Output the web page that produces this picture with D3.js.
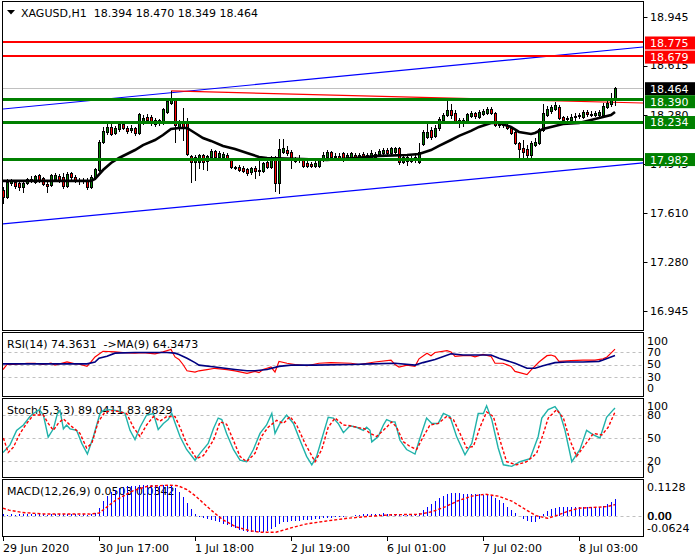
<!DOCTYPE html>
<html><head><meta charset="utf-8">
<script src="https://cdn.jsdelivr.net/npm/d3@7"></script>
<style>
body{margin:0;background:#fff}
svg{display:block}
text{font-family:"DejaVu Sans",sans-serif;font-size:11px;white-space:pre}
</style></head>
<body><svg id="c" width="700" height="560"></svg>
<script>
// ---------------- DATA ----------------
const symbolTitle = "XAGUSD,H1";
const lastOHLC = [18.394, 18.470, 18.349, 18.464];

const open = [
17.768,17.721,17.816,17.823,17.816,17.789,17.816,17.836,17.823,17.870,
17.850,17.809,17.802,17.843,17.864,17.857,17.796,17.884,17.857,17.836,
17.830,17.836,17.789,17.857,17.904,18.095,18.163,18.197,18.156,18.183,
18.217,18.190,18.176,18.190,18.156,18.224,18.265,18.265,18.244,18.224,
18.224,18.299,18.360,18.387,18.197,18.231,18.231,18.000,17.959,17.959,
18.006,17.966,17.993,18.034,17.993,17.993,18.006,17.979,17.925,17.925,
17.918,17.911,17.891,17.918,17.898,17.898,17.959,17.925,17.993,17.816,
18.027,18.040,18.027,17.966,17.979,17.972,17.952,17.945,17.932,17.932,
17.972,17.993,18.027,17.993,18.000,18.020,17.993,17.993,18.006,17.993,
18.013,17.986,17.993,17.993,18.013,18.020,18.040,18.020,18.027,18.054,
17.959,17.993,17.966,17.986,17.959,18.081,18.129,18.176,18.136,18.190,
18.244,18.278,18.312,18.292,18.244,18.238,18.238,18.272,18.292,18.265,
18.285,18.292,18.319,18.292,18.210,18.217,18.210,18.190,18.163,18.088,
18.054,18.047,18.006,18.074,18.088,18.176,18.278,18.306,18.319,18.333,
18.265,18.251,18.244,18.265,18.272,18.265,18.299,18.285,18.278,18.278,
18.278,18.333,18.353,18.394];
const high = [
17.789,17.843,17.843,17.836,17.836,17.830,17.850,17.864,17.870,17.877,
17.857,17.823,17.877,17.884,17.877,17.884,17.891,17.891,17.870,17.850,
17.850,17.850,17.870,17.918,18.108,18.197,18.217,18.224,18.204,18.224,
18.231,18.204,18.210,18.197,18.292,18.278,18.285,18.278,18.258,18.251,
18.326,18.387,18.442,18.394,18.244,18.326,18.258,18.006,18.006,18.013,
18.013,18.006,18.047,18.040,18.034,18.027,18.020,17.986,17.932,17.938,
17.932,17.918,17.925,17.932,17.972,17.959,17.966,18.000,18.000,18.115,
18.115,18.068,18.040,17.993,18.006,17.986,17.966,17.959,17.966,17.986,
18.027,18.040,18.034,18.020,18.020,18.027,18.020,18.027,18.020,18.020,
18.027,18.020,18.040,18.027,18.047,18.054,18.054,18.061,18.061,18.061,
18.006,18.006,18.000,18.006,18.088,18.176,18.224,18.197,18.210,18.265,
18.292,18.387,18.353,18.312,18.258,18.258,18.292,18.306,18.299,18.312,
18.319,18.333,18.333,18.299,18.231,18.231,18.224,18.197,18.170,18.095,
18.108,18.074,18.102,18.122,18.190,18.353,18.340,18.346,18.367,18.346,
18.272,18.272,18.285,18.292,18.292,18.312,18.312,18.306,18.306,18.312,
18.360,18.380,18.428,18.470];
const low = [
17.680,17.714,17.802,17.782,17.768,17.755,17.809,17.823,17.816,17.823,
17.802,17.755,17.796,17.830,17.823,17.782,17.789,17.843,17.823,17.809,
17.816,17.775,17.782,17.850,17.898,18.088,18.149,18.142,18.149,18.170,
18.183,18.156,18.163,18.142,18.149,18.217,18.231,18.210,18.204,18.210,
18.217,18.292,18.353,18.095,18.176,18.108,18.006,17.823,17.836,17.918,
17.911,17.904,17.986,17.986,17.986,17.986,17.972,17.918,17.911,17.898,
17.891,17.870,17.877,17.850,17.870,17.891,17.918,17.918,17.762,17.748,
18.020,18.006,17.918,17.959,17.959,17.925,17.925,17.925,17.925,17.925,
17.966,17.986,17.986,17.979,17.972,17.966,17.979,17.986,17.972,17.986,
17.986,17.979,17.986,17.986,18.006,18.013,18.013,18.013,18.020,17.945,
17.952,17.938,17.959,17.959,17.952,18.074,18.122,18.115,18.129,18.176,
18.238,18.272,18.258,18.224,18.197,18.204,18.231,18.265,18.258,18.258,
18.278,18.285,18.285,18.204,18.197,18.197,18.183,18.149,18.081,17.986,
17.986,17.986,17.993,18.068,18.081,18.170,18.272,18.292,18.312,18.251,
18.231,18.238,18.238,18.244,18.258,18.258,18.272,18.272,18.272,18.272,
18.272,18.326,18.340,18.349];
const close = [
17.721,17.823,17.830,17.796,17.789,17.816,17.843,17.843,17.864,17.836,
17.809,17.796,17.870,17.870,17.836,17.796,17.877,17.857,17.836,17.830,
17.836,17.789,17.857,17.911,18.095,18.170,18.197,18.149,18.190,18.217,
18.190,18.170,18.190,18.156,18.285,18.258,18.244,18.224,18.217,18.244,
18.319,18.374,18.394,18.210,18.231,18.197,18.013,17.959,17.993,18.006,
17.959,18.000,18.034,17.993,18.020,18.013,17.979,17.925,17.918,17.904,
17.898,17.884,17.918,17.898,17.904,17.952,17.925,17.993,17.816,18.047,
18.054,18.020,17.972,17.979,17.972,17.932,17.932,17.932,17.952,17.972,
18.006,18.027,17.993,18.000,17.986,17.972,18.006,18.020,17.993,18.006,
17.993,18.006,18.020,18.013,18.034,18.040,18.020,18.054,18.054,17.959,
17.993,17.966,17.986,17.993,18.027,18.163,18.163,18.129,18.190,18.251,
18.278,18.312,18.278,18.231,18.238,18.244,18.285,18.292,18.272,18.299,
18.306,18.319,18.292,18.210,18.217,18.210,18.190,18.156,18.088,18.047,
18.027,18.006,18.088,18.095,18.183,18.292,18.319,18.333,18.346,18.258,
18.244,18.258,18.265,18.272,18.278,18.299,18.285,18.278,18.292,18.299,
18.340,18.360,18.394,18.464];

// moving average on price (read at key bars)
const maIdx = [0,22,23,25,27,29,31,33,35,38,40,42,44,46,48,50,52,55,58,61,64,66,75,81,88,94,101,104,107,109,112,114,117,119,122,124,127,129,132,133,135,138,140,144,147,149,152,153];
const maVal = [17.830,17.830,17.843,17.904,17.952,17.986,18.013,18.040,18.074,18.108,18.142,18.183,18.190,18.190,18.156,18.122,18.102,18.068,18.047,18.020,17.993,17.986,17.979,17.972,17.986,18.000,18.006,18.013,18.040,18.068,18.108,18.136,18.170,18.197,18.224,18.224,18.197,18.163,18.149,18.156,18.183,18.204,18.217,18.224,18.244,18.258,18.278,18.299];

const priceTicks = [18.945, 18.615, 18.280, 17.945, 17.610, 17.280, 16.945];
const resistanceLevels = [18.775, 18.679];
const supportLevels = [18.390, 18.234, 17.982];
const bidPrice = 18.464;
// trend lines: [startBar, startPrice, endBar, endPrice]
const upperChannel = [0, 18.319, 160, 18.741];
const lowerChannel = [0, 17.537, 160, 17.952];
const peakLine = [42, 18.442, 160, 18.360];

// RSI(14) and its MA(9)
const rsiLegend = ["RSI(14)", 74.3631, "->MA(9)", 64.3473];
const rsiIdx = [0,1,3,6,8,10,12,13,16,18,19,21,22,23,25,28,30,33,35,38,40,42,43,44,45,46,48,49,51,53,56,58,61,63,64,65,66,67,68,69,71,73,76,79,82,87,89,93,97,98,99,101,103,104,106,107,108,111,112,113,115,117,118,120,122,123,125,127,128,131,132,134,136,137,138,139,142,145,148,150,151,152,153];
const rsiVal = [42,50,50,52,52,50,52,49,54,51,51,47,54,62,71,70,69,68,69,67,70,74,62,58,50,40,38,40,42,44,42,40,36,39,37,42,44,46,38,55,52,50,48,52,53,52,50,54,57,50,46,49,47,59,68,64,69,72,70,63,64,64,62,66,63,52,52,47,39,34,41,54,64,65,63,55,56,57,57,59,62,68,74.36];
const rsiMaIdx = [0,21,23,24,26,28,33,41,43,44,46,48,49,53,58,61,63,66,69,72,78,87,92,98,103,105,108,112,115,122,124,128,131,133,135,138,141,145,149,150,153];
const rsiMaVal = [51,51,54,60,63,68,69,69,68,66,60,53,49,46,42,40,40,42,47,49,49,50,51,52,49,53,58,67,65,65,60,52,44,44,48,53,54,54,55,57,64.35];
const rsiLevels = [70, 50, 30];
const rsiAxis = [100, 70, 50, 30, 0];

// Stochastic(5,3,3)
const stochLegend = ["Stoch(5,3,3)", 89.0411, 83.9829];
const stochKIdx = [0,1.75,3.4,5.1,6.75,7.6,9.1,10.1,11.3,12.6,13.6,14.25,15.1,15.9,16.75,18.4,19.7,21.1,22.6,24.25,25.1,26.75,29.25,30.5,31.75,33,34.25,35.9,37.6,38.8,40.1,41.3,42.2,43,44.25,45.9,48,49.25,51.3,52.6,53.8,54.7,55.9,57.6,59.25,60.9,62.6,64.25,65.9,67.2,68,69.25,70.9,72.6,74.25,75.9,77.2,78.4,80.1,81.3,82.6,83.8,85.1,86.75,88.4,90.1,90.9,91.75,92.2,93.8,95.1,95.9,97.2,98,99.25,100.9,103,104.25,105.9,107.2,108.8,110.1,111.75,113.4,115.5,117.2,118.8,120.1,120.9,122.2,123.8,125.1,127.2,129.25,131.75,133.8,134.7,136.3,138,139.25,140.5,142.2,144.25,145.9,147.6,149.25,150.9,152.6,153];
const stochKVal = [31,41,60,67,78,82,87,80,51,62,82,86,62,67,62,60,43,29,52,82,86,87,85,82,60,48,64,80,82,61,69,74,82,70,52,35,21,30,43,62,76,74,56,35,21,19,35,56,67,82,56,69,80,69,47,26,15,26,56,77,76,69,57,66,64,60,64,60,45,52,67,74,71,71,47,35,29,50,76,69,69,82,78,52,28,43,82,82,92,74,37,15,13,19,23,52,76,87,91,82,60,19,35,60,54,50,77,87,89.04];
const stochDIdx = [0.1,1.3,2.6,4.25,5.9,7.6,10.1,11.3,12.6,13.8,15.1,16.75,19.25,20.9,22.2,23.8,25.5,27.6,30.9,32.6,34.25,35.9,37.6,39.25,40.9,43,44.25,45.9,48.4,50.1,52.6,54.25,55.9,57.6,59.25,60.9,63,64.6,66.3,68.4,70.1,71.75,73.4,75.5,78,79.7,81.3,83,85.1,86.75,88.4,90.5,91.75,93.4,95.1,97.2,98.4,100.1,101.75,103.4,105.1,106.75,108.8,110.9,112.6,114.25,115.9,117.6,119.25,120.9,122.6,124.25,125.9,128.4,130.9,133.4,135.1,136.3,138.4,140.1,141.75,143.4,145.5,147.6,149.7,151.3,153];
const stochDVal = [50,31,38,56,69,80,80,69,60,69,75,67,56,37,43,71,84,86,82,64,52,67,78,72,78,78,64,43,23,27,47,71,68,47,26,19,30,52,64,73,69,78,67,43,19,35,64,76,67,66,64,62,56,52,60,71,64,45,39,35,52,67,69,78,74,56,37,39,64,84,78,47,19,15,19,30,56,76,87,76,47,26,41,56,54,64,83.98];
const stochLevels = [80, 50, 20];
const stochAxis = [100, 80, 50, 20, 0];

// MACD(12,26,9)
const macdLegend = ["MACD(12,26,9)", 0.0503, 0.0342];
const macdMain = [
0.004,0.003,0.004,0.003,0.004,0.005,0.004,0.004,0.005,0.004,
0.004,0.003,0.005,0.004,0.004,0.004,0.005,0.004,0.004,0.003,
0.004,0.003,0.004,0.008,0.023,0.045,0.060,0.072,0.080,0.085,
0.088,0.090,0.091,0.092,0.093,0.094,0.094,0.093,0.093,0.092,
0.093,0.094,0.092,0.084,0.072,0.058,0.040,0.022,0.005,-0.004,
-0.008,-0.011,-0.014,-0.017,-0.020,-0.024,-0.029,-0.034,-0.039,-0.043,
-0.046,-0.049,-0.050,-0.051,-0.051,-0.050,-0.048,-0.042,-0.034,-0.026,
-0.020,-0.018,-0.017,-0.016,-0.015,-0.014,-0.013,-0.012,-0.011,-0.009,
-0.008,-0.007,-0.006,-0.005,-0.004,-0.003,-0.002,0.000,0.002,0.003,
0.004,0.004,0.005,0.006,0.006,0.007,0.006,0.005,0.005,0.002,
0.002,0.001,0.001,0.002,0.008,0.016,0.026,0.036,0.046,0.055,
0.062,0.067,0.069,0.069,0.069,0.068,0.068,0.068,0.067,0.066,
0.065,0.063,0.060,0.055,0.047,0.038,0.028,0.018,0.008,-0.002,
-0.010,-0.016,-0.020,-0.018,-0.010,0.004,0.014,0.020,0.024,0.026,
0.026,0.026,0.027,0.026,0.026,0.027,0.027,0.026,0.026,0.027,
0.031,0.036,0.042,0.0503];
const macdSigIdx = [0,1.5,4.8,10.4,21.5,24,28.2,32.6,36,41.5,43.75,46,48.2,50.4,52.7,54.9,58.2,61.6,64.3,68.2,70.5,72.7,76,80.5,86,91.6,97.2,103.8,107.2,110.5,113.8,117.2,120.5,123.9,127.2,130.5,133.3,136.1,138.3,141.1,143.9,148.3,151.1,153];
const macdSigVal = [0.023,0.017,0.010,0.005,0.005,0.008,0.048,0.077,0.090,0.094,0.092,0.080,0.060,0.035,0.010,-0.012,-0.034,-0.046,-0.051,-0.051,-0.043,-0.035,-0.025,-0.017,-0.008,-0.002,0.003,0.004,0.012,0.027,0.046,0.060,0.066,0.060,0.045,0.020,0.000,-0.008,0.000,0.013,0.023,0.026,0.028,0.0342];
const macdAxis = [0.1128, 0.00, -0.0624];

const dateIdx = [0, 24, 48, 72, 96, 120, 144];
const dateLabels = ["29 Jun 2020","30 Jun 17:00","1 Jul 18:00","2 Jul 19:00","6 Jul 01:00","7 Jul 02:00","8 Jul 03:00"];

// ---------------- LAYOUT ----------------
const svg = d3.select("#c");
const L = 2.5, R = 643.5;
const P = {main:[1.5,330.5], rsi:[332.5,396.5], stoch:[398.5,477.5], macd:[479.5,536.5]};

const x = d3.scaleLinear().domain([0,153]).range([3,615]);
const yP = d3.scaleLinear().domain([16.945,18.945]).range([311,17]);
const yR = d3.scaleLinear().domain([0,100]).range([396,333]);
const yS = d3.scaleLinear().domain([0,100]).range([476.3,399.7]);
const yM = d3.scaleLinear().domain([-0.0624,0.1128]).range([536,479]);

const defs = svg.append("defs");
Object.entries(P).forEach(([k,[a,b]])=>{
  defs.append("clipPath").attr("id","cp_"+k).append("rect")
    .attr("x",L+0.5).attr("y",a+0.5).attr("width",R-L-1).attr("height",b-a-1);
});
svg.append("rect").attr("width",700).attr("height",560).attr("fill","#fff");

const zipLine = (xs, ys, sy) => d3.line()(xs.map((v,k)=>[x(v), sy(ys[k])]));

// ---------- MAIN PANEL ----------
const gm = svg.append("g").attr("clip-path","url(#cp_main)");
const hline = (g,p,color,w) => g.append("line").attr("x1",L).attr("x2",R)
  .attr("y1",Math.round(yP(p))+(w%2?0.5:0)).attr("y2",Math.round(yP(p))+(w%2?0.5:0))
  .attr("stroke",color).attr("stroke-width",w);

hline(gm, bidPrice, "#c0c0c0", 1);
[upperChannel, lowerChannel].forEach(t=>{
  gm.append("line").attr("x1",x(t[0])).attr("y1",yP(t[1])).attr("x2",x(t[2])).attr("y2",yP(t[3]))
    .attr("stroke","#0000ff").attr("stroke-width",1.2);
});
gm.append("line").attr("x1",x(peakLine[0])).attr("y1",yP(peakLine[1])).attr("x2",x(peakLine[2])).attr("y2",yP(peakLine[3]))
  .attr("stroke","#ff0000").attr("stroke-width",1.2);

// candles
const cg = gm.append("g");
open.forEach((o,i)=>{
  const c = close[i], xc = Math.round(x(i));
  cg.append("line").attr("x1",xc+0.5).attr("x2",xc+0.5)
    .attr("y1",Math.round(yP(high[i]))).attr("y2",Math.round(yP(low[i]))+1)
    .attr("stroke","#000");
  const top = Math.round(yP(Math.max(o,c))), bot = Math.round(yP(Math.min(o,c)));
  if (bot - top < 1) {
    cg.append("line").attr("x1",xc-1).attr("x2",xc+2).attr("y1",top+0.5).attr("y2",top+0.5).attr("stroke","#000");
  } else {
    cg.append("rect").attr("x",xc-0.5).attr("y",top+0.5).attr("width",2).attr("height",bot-top)
      .attr("fill", c>=o ? "#008000" : "#ff0000").attr("stroke","#000");
  }
});
// MA
gm.append("path").attr("d", zipLine(maIdx, maVal, yP)).attr("fill","none")
  .attr("stroke","#000").attr("stroke-width",2.6);
// horizontal levels
resistanceLevels.forEach(p=>hline(gm,p,"#ff0000",2));
supportLevels.forEach(p=>hline(gm,p,"#008000",3));

// header
svg.append("path").attr("d","M7,10 L15,10 L11,14.5 Z").attr("fill","#000");
svg.append("text").attr("x",21).attr("y",16.5).attr("fill","#000")
  .text(symbolTitle + "  " + lastOHLC.map(v=>v.toFixed(3)).join(" "));

// price axis
priceTicks.forEach(p=>{
  const yy = Math.round(yP(p))+0.5;
  svg.append("line").attr("x1",R).attr("x2",R+4).attr("y1",yy).attr("y2",yy).attr("stroke","#000");
  svg.append("text").attr("x",650).attr("y",yP(p)).attr("dy","0.36em").attr("fill","#000").text(p.toFixed(3));
});
// level boxes (pushed down to avoid overlap)
const boxes = [
  ...resistanceLevels.map(p=>({p, col:"#ff0000"})),
  {p:bidPrice, col:"#000000"},
  ...supportLevels.map(p=>({p, col:"#008000"}))
].sort((a,b)=>b.p-a.p);
let lastBottom = -1e9;
boxes.forEach(b=>{
  let top = yP(b.p) + 1 - 6.5;
  if (top < lastBottom) top = lastBottom;
  lastBottom = top + 13;
  svg.append("rect").attr("x",645).attr("y",top).attr("width",50).attr("height",13).attr("fill",b.col);
  svg.append("text").attr("x",650).attr("y",top+6.5).attr("dy","0.36em").attr("fill","#fff").text(b.p.toFixed(3));
});

// ---------- RSI ----------
const clampY = (v,[a,b]) => Math.max(a+8, Math.min(b-8, v));
const gr = svg.append("g");
gr.append("text").attr("x",7).attr("y",347.5).attr("fill","#000")
  .text(rsiLegend[0] + " " + rsiLegend[1].toFixed(4) + "  " + rsiLegend[2] + " " + rsiLegend[3].toFixed(4));
const grc = gr.append("g").attr("clip-path","url(#cp_rsi)");
rsiLevels.forEach(v=>grc.append("line").attr("x1",L).attr("x2",R).attr("y1",Math.round(yR(v))+0.5).attr("y2",Math.round(yR(v))+0.5)
  .attr("stroke","#c0c0c0").attr("stroke-dasharray","3,3"));
grc.append("path").attr("d",zipLine(rsiIdx,rsiVal,yR)).attr("fill","none").attr("stroke","#ff0000").attr("stroke-width",1.2);
grc.append("path").attr("d",zipLine(rsiMaIdx,rsiMaVal,yR)).attr("fill","none").attr("stroke","#000080").attr("stroke-width",1.6);
rsiAxis.forEach(v=>svg.append("text").attr("x",647).attr("y",clampY(yR(v),[333,396])).attr("dy","0.36em").attr("fill","#000").text(v));

// ---------- STOCH ----------
const gs = svg.append("g");
gs.append("text").attr("x",7).attr("y",414).attr("fill","#000")
  .text(stochLegend[0] + " " + stochLegend[1].toFixed(4) + " " + stochLegend[2].toFixed(4));
const gsc = gs.append("g").attr("clip-path","url(#cp_stoch)");
stochLevels.forEach(v=>gsc.append("line").attr("x1",L).attr("x2",R).attr("y1",Math.round(yS(v))+0.5).attr("y2",Math.round(yS(v))+0.5)
  .attr("stroke","#c0c0c0").attr("stroke-dasharray","3,3"));
gsc.append("path").attr("d",zipLine(stochKIdx,stochKVal,yS)).attr("fill","none").attr("stroke","#20b2aa").attr("stroke-width",1.4);
gsc.append("path").attr("d",zipLine(stochDIdx,stochDVal,yS)).attr("fill","none").attr("stroke","#ff0000").attr("stroke-width",1.4).attr("stroke-dasharray","3,2");
stochAxis.forEach(v=>svg.append("text").attr("x",647).attr("y",clampY(yS(v),[398,477])).attr("dy","0.36em").attr("fill","#000").text(v));

// ---------- MACD ----------
const gmc = svg.append("g");
gmc.append("text").attr("x",7).attr("y",495).attr("fill","#000")
  .text(macdLegend[0] + " " + macdLegend[1].toFixed(4) + " " + macdLegend[2].toFixed(4));
const gmcc = gmc.append("g").attr("clip-path","url(#cp_macd)");
gmcc.append("line").attr("x1",L).attr("x2",R).attr("y1",Math.round(yM(0))+0.5).attr("y2",Math.round(yM(0))+0.5)
  .attr("stroke","#c0c0c0").attr("stroke-dasharray","3,3");
macdMain.forEach((v,i)=>{
  const xc = Math.round(x(i))+0.5;
  gmcc.append("line").attr("x1",xc).attr("x2",xc).attr("y1",Math.round(yM(0))).attr("y2",Math.round(yM(v)))
    .attr("stroke","#0000ff").attr("stroke-width",1);
});
gmcc.append("path").attr("d",zipLine(macdSigIdx,macdSigVal,yM)).attr("fill","none").attr("stroke","#ff0000").attr("stroke-width",1.4).attr("stroke-dasharray","3,2");
macdAxis.forEach(v=>{
  const t = v===0 ? "0.00" : v.toFixed(4);
  const yy = clampY(yM(v),[479,536]);
  svg.append("text").attr("x",647).attr("y",yy).attr("dy","0.36em").attr("fill","#000").text(t);
  if (v===0) svg.append("text").attr("x",647.6).attr("y",yy).attr("dy","0.36em").attr("fill","#000").text(t);
});

// ---------- panel frames ----------
Object.values(P).forEach(([a,b])=>{
  svg.append("rect").attr("x",L).attr("y",a).attr("width",R-L).attr("height",b-a)
    .attr("fill","none").attr("stroke","#000").attr("stroke-width",1);
});

// ---------- time axis ----------
dateIdx.forEach((d,k)=>{
  const xx = Math.round(x(d))+0.5;
  svg.append("line").attr("x1",xx).attr("x2",xx).attr("y1",536.5).attr("y2",541).attr("stroke","#000");
  svg.append("text").attr("x",xx-0.5).attr("y",551.5).attr("fill","#000").text(dateLabels[k]);
});
</script></body></html>
